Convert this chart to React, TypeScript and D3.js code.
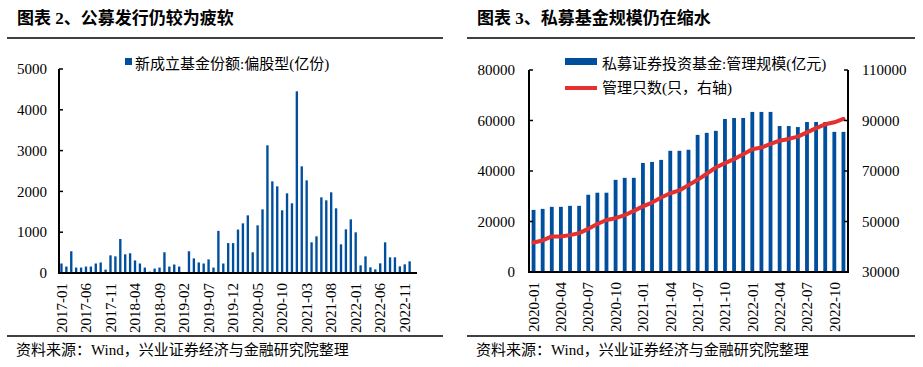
import React from "react";
import * as d3 from "d3";

// ---------- data ----------
function monthRange(startY: number, startM: number, count: number): string[] {
  const out: string[] = [];
  for (let i = 0; i < count; i++) {
    const t = startM - 1 + i;
    const y = startY + Math.floor(t / 12);
    const m = (t % 12) + 1;
    out.push(`${y}-${m < 10 ? "0" + m : m}`);
  }
  return out;
}

// Left chart: 2017-01 .. 2023-01 (last slot empty)
const leftMonths: string[] = monthRange(2017, 1, 73);
const leftValues: (number | null)[] = [
  233, 158, 533, 133, 133, 158, 158, 233, 258, 83,
  433, 408, 833, 458, 483, 308, 233, 133, 33, 108,
  133, 508, 158, 208, 158, 0, 533, 358, 258, 233,
  333, 133, 1033, 233, 733, 733, 1065, 1217, 1413, 507,
  1168, 1560, 3129, 2247, 2124, 1536, 1953, 1708, 4453, 2614,
  2271, 752, 899, 1855, 1781, 1977, 1585, 703, 1070, 1315,
  997, 188, 408, 139, 90, 237, 752, 384, 384, 163,
  212, 286, null,
];
const leftTicks: number[] = [0, 1000, 2000, 3000, 4000, 5000];
const leftLabelEvery = 5;

// Right chart: 2020-01 .. 2022-11
const rightMonths: string[] = monthRange(2020, 1, 35);
const rightBars: number[] = [
  24600, 25000, 25800, 25800, 26200, 26200, 30600, 31400, 31400, 36500,
  37300, 37300, 43200, 43600, 44400, 48000, 48000, 48400, 54300, 55100,
  55900, 60600, 61000, 61000, 63400, 63400, 63400, 57800, 57800, 57400,
  59400, 59400, 59400, 55500, 55500,
];
const rightLine: number[] = [
  41700, 42500, 44100, 44100, 44600, 45400, 47100, 49000, 50600, 51300,
  52500, 54200, 56000, 57500, 59500, 61200, 62300, 64400, 66500, 68900,
  71400, 73100, 74700, 76600, 78600, 79300, 80700, 82000, 82700, 83600,
  85300, 87000, 88500, 89300, 90600,
];
const rightTicksL: number[] = [0, 20000, 40000, 60000, 80000];
const rightTicksR: number[] = [30000, 50000, 70000, 90000, 110000];
const rightLabelEvery = 3;

const title1 = "图表 2、公募发行仍较为疲软";
const title2 = "图表 3、私募基金规模仍在缩水";
const legend1 = "新成立基金份额:偏股型(亿份)";
const legend2a = "私募证券投资基金:管理规模(亿元)";
const legend2b = "管理只数(只，右轴)";
const source = "资料来源：Wind，兴业证券经济与金融研究院整理";

// ---------- style ----------
const BLUE = "#004f9e";
const RED = "#e4302f";
const FONT = "'Liberation Serif', 'Times New Roman', 'Noto Sans CJK SC', serif";
const CJK = "'Liberation Serif', 'Noto Sans CJK SC', serif";

export default function App() {
  // left chart geometry
  const L = { x0: 59, x1: 417, top: 69, bottom: 273 };
  const xL = d3
    .scaleBand<string>()
    .domain(leftMonths)
    .range([L.x0, L.x1])
    .paddingInner(0.52)
    .paddingOuter(0.26);
  const yL = d3.scaleLinear().domain([0, 5000]).range([L.bottom, L.top]);

  // right chart geometry
  const R = { x0: 529, x1: 848, top: 70, bottom: 272 };
  const xR = d3
    .scaleBand<string>()
    .domain(rightMonths)
    .range([R.x0, R.x1])
    .paddingInner(0.58)
    .paddingOuter(0.29);
  const yR = d3.scaleLinear().domain([0, 80000]).range([R.bottom, R.top]);
  const yR2 = d3.scaleLinear().domain([30000, 110000]).range([R.bottom, R.top]);

  const line = d3
    .line<number>()
    .x((_, i) => (xR(rightMonths[i]) as number) + xR.bandwidth() / 2)
    .y((d) => yR2(d));

  return (
    <div style={{ position: "absolute", left: 0, top: 0 }}>
      <svg width={923} height={367} style={{ display: "block", background: "#fff" }}>
        {/* ---------- LEFT PANEL ---------- */}
        <text x={17} y={24} fontFamily={CJK} fontSize={17} fontWeight="bold" fill="#000">
          {title1}
        </text>
        <line x1={7} x2={443} y1={38} y2={38} stroke="#000" strokeWidth={1.3} />
        <line x1={7} x2={443} y1={336} y2={336} stroke="#000" strokeWidth={1.3} />
        <text x={16} y={355} fontFamily={CJK} fontSize={15} fill="#000">
          {source}
        </text>

        {/* legend */}
        <rect x={125} y={58} width={7} height={7} fill={BLUE} />
        <text x={135} y={69} fontFamily={CJK} fontSize={15} fill="#000">
          {legend1}
        </text>

        {/* bars */}
        {leftValues.map((v, i) =>
          v == null || v <= 0 ? null : (
            <rect
              key={"lb" + i}
              x={xL(leftMonths[i])}
              y={yL(v)}
              width={xL.bandwidth()}
              height={yL(0) - yL(v)}
              fill={BLUE}
            />
          )
        )}

        {/* y axis */}
        <line x1={L.x0} x2={L.x0} y1={L.top} y2={L.bottom} stroke="#000" strokeWidth={2} />
        {leftTicks.map((t) => (
          <g key={"lt" + t}>
            <line x1={L.x0} x2={L.x0 + 4} y1={yL(t)} y2={yL(t)} stroke="#000" strokeWidth={1.5} />
            <text
              x={L.x0 - 12}
              y={yL(t)}
              dy="0.35em"
              textAnchor="end"
              fontFamily={FONT}
              fontSize={15}
              fill="#000"
            >
              {t}
            </text>
          </g>
        ))}
        {/* x axis */}
        <line x1={L.x0 - 1} x2={L.x1} y1={L.bottom} y2={L.bottom} stroke="#000" strokeWidth={2.2} />
        {leftMonths.map((m, i) =>
          i % leftLabelEvery === 0 && leftValues[i] != null ? (
            <text
              key={"lx" + m}
              transform={`translate(${(xL(m) as number) + xL.bandwidth() / 2},${L.bottom + 10}) rotate(-90)`}
              dy="0.35em"
              textAnchor="end"
              fontFamily={FONT}
              fontSize={15}
              fill="#000"
            >
              {m}
            </text>
          ) : null
        )}

        {/* ---------- RIGHT PANEL ---------- */}
        <text x={477} y={24} fontFamily={CJK} fontSize={17} fontWeight="bold" fill="#000">
          {title2}
        </text>
        <line x1={467} x2={915} y1={38} y2={38} stroke="#000" strokeWidth={1.3} />
        <line x1={467} x2={915} y1={336} y2={336} stroke="#000" strokeWidth={1.3} />
        <text x={476} y={355} fontFamily={CJK} fontSize={15} fill="#000">
          {source}
        </text>

        {/* legend */}
        <rect x={565} y={58} width={32} height={7} fill={BLUE} />
        <text x={602} y={69} fontFamily={CJK} fontSize={15} fill="#000">
          {legend2a}
        </text>
        <line x1={565} x2={597} y1={88} y2={88} stroke={RED} strokeWidth={4} />
        <text x={602} y={93} fontFamily={CJK} fontSize={15} fill="#000">
          {legend2b}
        </text>

        {/* bars */}
        {rightBars.map((v, i) => (
          <rect
            key={"rb" + i}
            x={xR(rightMonths[i])}
            y={yR(v)}
            width={xR.bandwidth()}
            height={yR(0) - yR(v)}
            fill={BLUE}
          />
        ))}

        {/* line */}
        <path
          d={line(rightLine) || ""}
          fill="none"
          stroke={RED}
          strokeWidth={4}
          strokeLinejoin="round"
          strokeLinecap="round"
        />

        {/* left y axis */}
        <line x1={R.x0} x2={R.x0} y1={R.top} y2={R.bottom} stroke="#000" strokeWidth={2} />
        {rightTicksL.map((t) => (
          <g key={"rl" + t}>
            <line x1={R.x0} x2={R.x0 + 4} y1={yR(t)} y2={yR(t)} stroke="#000" strokeWidth={1.5} />
            <text
              x={R.x0 - 14}
              y={yR(t)}
              dy="0.35em"
              textAnchor="end"
              fontFamily={FONT}
              fontSize={15}
              fill="#000"
            >
              {t}
            </text>
          </g>
        ))}
        {/* right y axis */}
        <line x1={R.x1} x2={R.x1} y1={R.top} y2={R.bottom} stroke="#000" strokeWidth={2} />
        {rightTicksR.map((t) => (
          <g key={"rr" + t}>
            <line x1={R.x1 - 4} x2={R.x1} y1={yR2(t)} y2={yR2(t)} stroke="#000" strokeWidth={1.5} />
            <text
              x={R.x1 + 14}
              y={yR2(t)}
              dy="0.35em"
              textAnchor="start"
              fontFamily={FONT}
              fontSize={15}
              fill="#000"
            >
              {t}
            </text>
          </g>
        ))}
        {/* x axis */}
        <line x1={R.x0 - 1} x2={R.x1 + 1} y1={R.bottom} y2={R.bottom} stroke="#000" strokeWidth={2.2} />
        {rightMonths.map((m, i) =>
          i % rightLabelEvery === 0 ? (
            <text
              key={"rx" + m}
              transform={`translate(${(xR(m) as number) + xR.bandwidth() / 2},${R.bottom + 10}) rotate(-90)`}
              dy="0.35em"
              textAnchor="end"
              fontFamily={FONT}
              fontSize={15}
              fill="#000"
            >
              {m}
            </text>
          ) : null
        )}
      </svg>
    </div>
  );
}
